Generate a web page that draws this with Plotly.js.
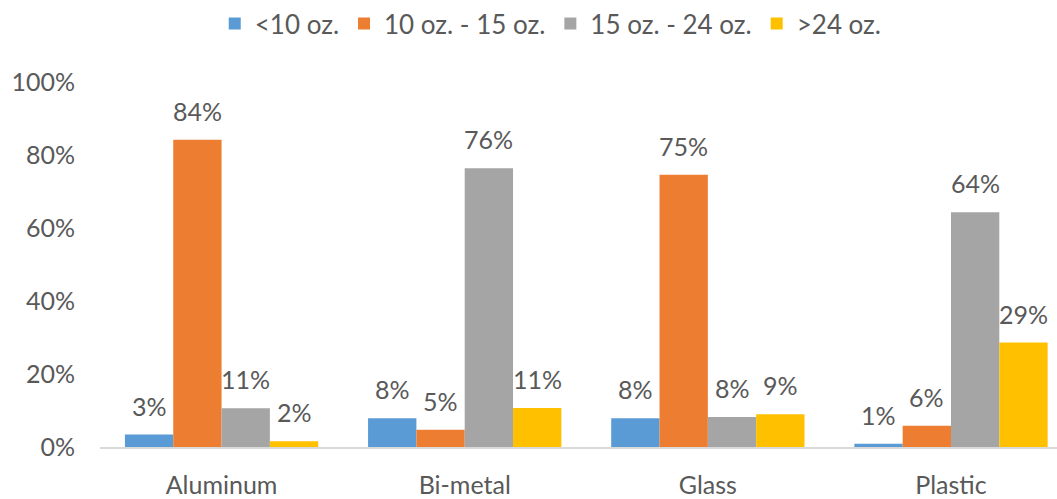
<!DOCTYPE html>
<html>
<head>
<meta charset="utf-8">
<script src="https://cdn.plot.ly/plotly-3.0.1.min.js"></script>
<style>html,body{margin:0;padding:0;background:#fff;}#chart{width:1057px;height:499px;}</style>
</head>
<body>
<div id="chart"></div>
<script>
const categories = ["Aluminum", "Bi-metal", "Glass", "Plastic"];
const seriesNames = ["<10 oz.", "10 oz. - 15 oz.", "15 oz. - 24 oz.", ">24 oz."];
const under10 = [0.034, 0.079, 0.079, 0.009];
const from10to15 = [0.842, 0.047, 0.746, 0.058];
const from15to24 = [0.106, 0.764, 0.082, 0.643];
const over24 = [0.016, 0.107, 0.090, 0.286];
const colors = ["#5b9bd5", "#ed7d31", "#a5a5a5", "#ffc000"];
const yTicks = [0, 0.2, 0.4, 0.6, 0.8, 1.0];

const FONT = "Lato, 'Open Sans', sans-serif";
const TXT = "#595959";

const W = 1057, H = 499;
const M = {l: 100, r: 0, t: 79, b: 52};
const XR = [-0.5, 3.436];
const BARGAP = 0.205;

const allValues = [under10, from10to15, from15to24, over24];
const data = allValues.map((vals, i) => ({
  type: "bar",
  name: seriesNames[i],
  x: categories,
  y: vals,
  marker: {color: colors[i]},
  hoverinfo: "none"
}));

// value labels placed above each bar (offset per series within group)
const pxPerCat = (W - M.l - M.r) / (XR[1] - XR[0]);
const barW = pxPerCat * (1 - BARGAP) / allValues.length;
const annotations = [];
allValues.forEach((vals, i) => {
  vals.forEach((v, j) => {
    annotations.push({
      x: categories[j], y: v, xref: "x", yref: "y",
      text: Math.round(v * 100) + "%",
      showarrow: false,
      xanchor: "center", yanchor: "bottom",
      xshift: (i - (allValues.length - 1) / 2) * barW,
      yshift: 12,
      font: {family: FONT, size: 25, color: TXT}
    });
  });
});

const layout = {
  width: W,
  height: H,
  margin: {l: M.l, r: M.r, t: M.t, b: M.b, pad: 0},
  paper_bgcolor: "#ffffff",
  plot_bgcolor: "#ffffff",
  font: {family: FONT, size: 25, color: TXT},
  barmode: "group",
  bargap: BARGAP,
  bargroupgap: 0,
  showlegend: true,
  annotations: annotations,
  legend: {
    orientation: "h",
    x: 0.471, xanchor: "center",
    y: 1.16, yanchor: "middle",
    font: {family: FONT, size: 26, color: TXT},
    traceorder: "normal",
    itemwidth: 30
  },
  xaxis: {
    type: "category",
    range: XR,
    showline: true,
    linecolor: "#d9d9d9",
    linewidth: 1.5,
    showgrid: false,
    zeroline: false,
    ticks: "",
    ticklabelstandoff: 15,
    tickfont: {family: FONT, size: 25, color: TXT}
  },
  yaxis: {
    range: [0, 1.0],
    tickvals: yTicks,
    tickformat: ".0%",
    showgrid: false,
    zeroline: false,
    showline: false,
    ticks: "",
    ticklabelstandoff: 24,
    tickfont: {family: FONT, size: 25, color: TXT}
  }
};

Plotly.newPlot("chart", data, layout, {displayModeBar: false, staticPlot: true});
</script>
</body>
</html>
